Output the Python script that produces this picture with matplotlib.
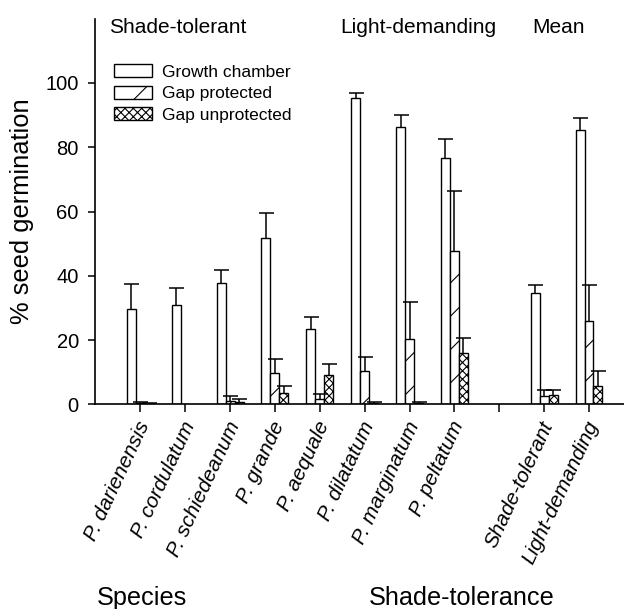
import numpy as np
import matplotlib
matplotlib.use("Agg")
import matplotlib.pyplot as plt
import matplotlib.transforms as mtransforms

plt.rcParams['font.family'] = ['Liberation Sans', 'DejaVu Sans']
plt.rcParams['hatch.linewidth'] = 0.8

# Group labels along the x axis (position 8 is an empty gap)
labels = ["P. darienensis", "P. cordulatum", "P. schiedeanum", "P. grande",
          "P. aequale", "P. dilatatum", "P. marginatum", "P. peltatum",
          "", "Shade-tolerant", "Light-demanding"]

# % seed germination, mean and upper SE, per treatment
growth_chamber = [29.6, 30.8, 37.7, 51.7, 23.6, 95.3, 86.3, 76.8, np.nan, 34.6, 85.5]
growth_chamber_err = [7.9, 5.3, 4.0, 8.0, 3.6, 1.7, 3.9, 5.9, np.nan, 2.6, 3.7]
gap_protected = [0.4, np.nan, 1.2, 9.7, 1.7, 10.5, 20.3, 47.6, np.nan, 2.7, 26.1]
gap_protected_err = [0.5, np.nan, 1.4, 4.6, 1.6, 4.2, 11.7, 18.8, np.nan, 1.7, 11.1]
gap_unprotected = [0.3, np.nan, 0.9, 3.5, 9.2, 0.4, 0.4, 16.0, np.nan, 2.8, 5.7]
gap_unprotected_err = [0.3, np.nan, 0.8, 2.4, 3.3, 0.4, 0.5, 4.6, np.nan, 1.6, 4.8]

series = [("Growth chamber", growth_chamber, growth_chamber_err, None),
          ("Gap protected", gap_protected, gap_protected_err, "/"),
          ("Gap unprotected", gap_unprotected, gap_unprotected_err, "xxxx")]

x = np.arange(len(labels))
width = 0.2

fig = plt.figure(figsize=(6.24, 6.09), dpi=100)
ax = fig.add_axes([0.153, 0.3358, 0.847, 0.6335])

for i, (name, vals, errs, hatch) in enumerate(series):
    pos = x + (i - 1) * width
    vals = np.array(vals)
    top = vals + np.array(errs)
    ax.bar(pos, vals, width, color="white", edgecolor="black", linewidth=1.0,
           hatch=hatch, label=name, zorder=2)
    # upper error bar only
    ax.vlines(pos, vals, top, color="black", linewidth=1.1, zorder=3)
    ax.plot(pos, top, ls="none", marker="_", ms=10.8, mew=1.1,
            color="black", zorder=3)

ax.set_xlim(-1.0, 10.78)
ax.set_ylim(0, 120)
ax.set_yticks([0, 20, 40, 60, 80, 100])
ax.set_xticks(x)
ax.set_xticklabels(labels, rotation=65, ha="right", rotation_mode="anchor",
                   fontsize=15, fontstyle="italic")
ax.tick_params(axis="y", labelsize=14.5, length=5, width=1.1, direction="out", pad=7)
ax.tick_params(axis="x", length=6, width=1.1, direction="out", pad=4)
shift = mtransforms.ScaledTranslation(-4 / 100, 0, fig.dpi_scale_trans)
for lab in ax.get_xticklabels():
    lab.set_transform(lab.get_transform() + shift)
ax.spines["top"].set_visible(False)
ax.spines["right"].set_visible(False)
ax.spines["left"].set_linewidth(1.2)
ax.spines["bottom"].set_linewidth(1.2)
ax.set_ylabel("% seed germination", fontsize=18.4, labelpad=8)

# group headers
fig.text(109 / 624, 1 - 33.3 / 609, "Shade-tolerant", fontsize=15, va="baseline")
fig.text(340 / 624, 1 - 33.3 / 609, "Light-demanding", fontsize=15, va="baseline")
fig.text(532 / 624, 1 - 33.3 / 609, "Mean", fontsize=15, va="baseline")

# bottom captions
fig.text(97 / 624, 1 - 605 / 609, "Species", fontsize=18.2, va="baseline")
fig.text(369 / 624, 1 - 605 / 609, "Shade-tolerance", fontsize=18.2, va="baseline")

ax.legend(loc="upper left", bbox_to_anchor=(114.3 / 624, 1 - 64 / 609),
          bbox_transform=fig.transFigure, frameon=False, fontsize=12.5,
          handlelength=2.2, handleheight=0.78, handletextpad=0.57,
          labelspacing=0.35, borderpad=0, borderaxespad=0)

fig.savefig("out.png", dpi=100)
